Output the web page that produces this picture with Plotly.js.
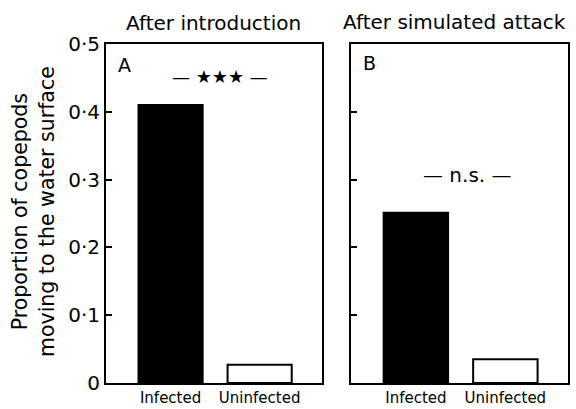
<!DOCTYPE html>
<html>
<head>
<meta charset="utf-8">
<script src="https://cdn.plot.ly/plotly-3.0.1.min.js"></script>
<style>html,body{margin:0;padding:0;background:#fff;}#chart{width:576px;height:409px;}</style>
</head>
<body>
<div id="chart"></div>
<script>
const categories = ["Infected", "Uninfected"];
const afterIntroduction = [0.41, 0.027];
const afterAttack = [0.251, 0.035];
const tickValues = [0, 0.1, 0.2, 0.3, 0.4, 0.5];
const tickLabels = ["0", "0·1", "0·2", "0·3", "0·4", "0·5"];
const panelTitles = ["After introduction", "After simulated attack"];
const panelLetters = ["A", "B"];
const significance = ["— ★★★ —", "— n.s. —"];
const yLabel = "Proportion of copepods<br>moving to the water surface";

const FONT = "DejaVu Sans, Verdana, sans-serif";
const fills = ["#000000", "#ffffff"];

const traces = [
  {type: "bar", x: categories, y: afterIntroduction, xaxis: "x", yaxis: "y",
   marker: {color: fills, line: {color: "#000", width: 2}}, width: 0.72, hoverinfo: "skip"},
  {type: "bar", x: categories, y: afterAttack, xaxis: "x2", yaxis: "y2",
   marker: {color: fills, line: {color: "#000", width: 2}}, width: 0.72, hoverinfo: "skip"}
];

const yBase = {range: [0, 0.5], showline: true, linecolor: "#000", linewidth: 2, mirror: true,
  ticks: "inside", ticklen: 6, tickwidth: 2, tickcolor: "#000", showgrid: false, zeroline: false,
  tickvals: tickValues, ticktext: tickLabels, tickfont: {family: FONT, size: 20, color: "#000"},
  domain: [1 - 383/409, 1 - 44/409]};
const xBase = {range: [-0.725, 1.70], showline: true, linecolor: "#000", linewidth: 2, mirror: true,
  ticks: "", showgrid: false, zeroline: false, tickfont: {family: FONT, size: 15, color: "#000"},
  type: "category"};

const layout = {
  width: 576, height: 409, margin: {l: 0, r: 0, t: 0, b: 0},
  paper_bgcolor: "#fff", plot_bgcolor: "#fff", showlegend: false, bargap: 0,
  font: {family: FONT, color: "#000"},
  xaxis: Object.assign({}, xBase, {domain: [106/576, 322/576], anchor: "y"}),
  yaxis: Object.assign({}, yBase, {anchor: "x"}),
  xaxis2: Object.assign({}, xBase, {domain: [351/576, 568/576], anchor: "y2"}),
  yaxis2: Object.assign({}, yBase, {anchor: "x2", showticklabels: false}),
  annotations: [
    {text: panelTitles[0], xref: "paper", yref: "paper", x: 213/576, y: 1 - 23/409, showarrow: false, font: {size: 20}, xanchor: "center", yanchor: "middle"},
    {text: panelTitles[1], xref: "paper", yref: "paper", x: 454/576, y: 1 - 22/409, showarrow: false, font: {size: 20}, xanchor: "center", yanchor: "middle"},
    {text: panelLetters[0], xref: "x", yref: "y", x: -0.61, y: 0.469, showarrow: false, font: {size: 19}, xanchor: "left", yanchor: "middle"},
    {text: panelLetters[1], xref: "x2", yref: "y2", x: -0.61, y: 0.472, showarrow: false, font: {size: 19}, xanchor: "left", yanchor: "middle"},
    {text: significance[0], xref: "x", yref: "y", x: 0.556, y: 0.452, showarrow: false, font: {size: 18}, xanchor: "center", yanchor: "middle"},
    {text: significance[1], xref: "x2", yref: "y2", x: 0.573, y: 0.307, showarrow: false, font: {size: 20}, xanchor: "center", yanchor: "middle"},
    {text: yLabel, xref: "paper", yref: "paper", x: 34/576, y: 1 - 212/409, showarrow: false, textangle: -90, font: {size: 20.5}, xanchor: "center", yanchor: "middle"}
  ]
};

Plotly.newPlot("chart", traces, layout, {staticPlot: true, displayModeBar: false});
</script>
</body>
</html>
